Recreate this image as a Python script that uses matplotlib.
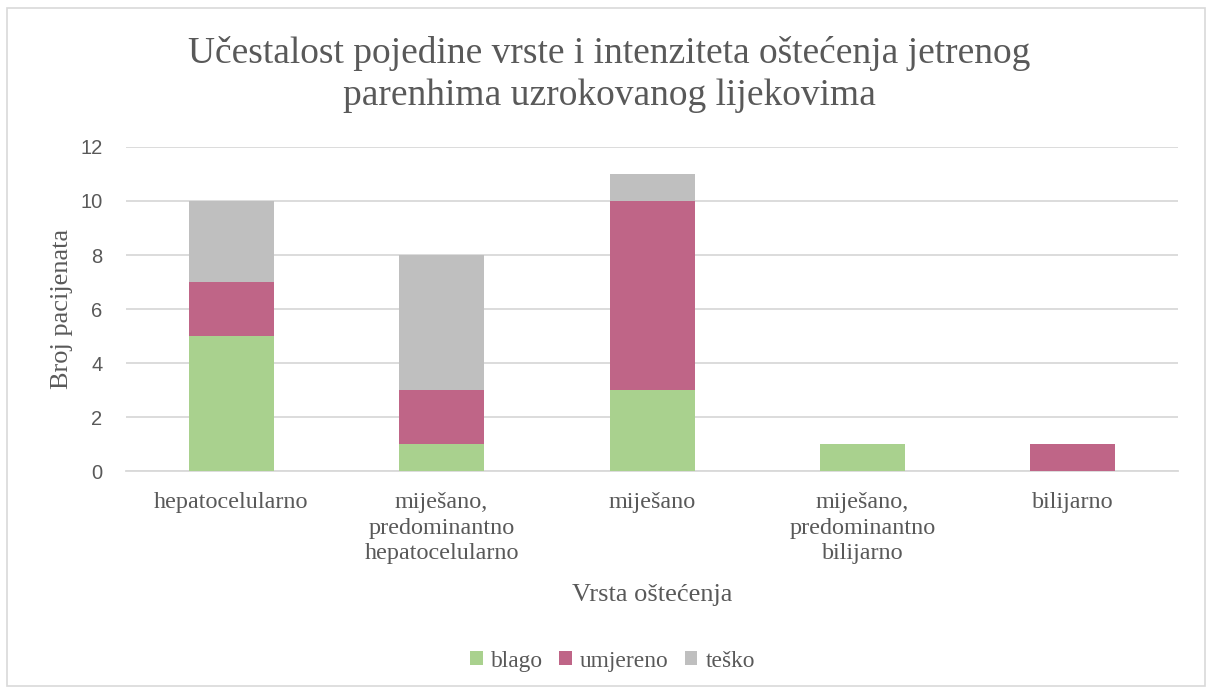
import matplotlib.pyplot as plt
import numpy as np

# podaci
categories = ["hepatocelularno",
              "miješano,\npredominantno\nhepatocelularno",
              "miješano",
              "miješano,\npredominantno\nbilijarno",
              "bilijarno"]
blago = [5, 1, 3, 1, 0]
umjereno = [2, 2, 7, 0, 1]
tesko = [3, 5, 1, 0, 0]

series_names = ["blago", "umjereno", "teško"]
colors = ["#a9d18e", "#bf6587", "#bfbfbf"]
text_color = "#595959"
serif = "Liberation Serif"

fig = plt.figure(figsize=(12.06, 6.93), dpi=100)
ax = fig.add_axes([0.1045, 0.3203, 0.8723, 0.4676])

x = np.arange(len(categories))
bottom = np.zeros(len(categories))
handles = []
for vals, name, col in zip([blago, umjereno, tesko], series_names, colors):
    b = ax.bar(x, vals, width=0.404, bottom=bottom, color=col, label=name, zorder=3)
    handles.append(b)
    bottom += np.array(vals)

ax.set_xlim(-0.5, len(categories) - 0.5)
ax.set_ylim(0, 12)
ax.set_yticks(range(0, 13, 2))
ax.grid(axis="y", color="#d9d9d9", linewidth=1.3, zorder=0)
for side in ["top", "right", "left"]:
    ax.spines[side].set_visible(False)
ax.spines["bottom"].set_color("#d9d9d9")
ax.spines["bottom"].set_linewidth(1.3)
ax.tick_params(axis="both", length=0, colors=text_color)
ax.tick_params(axis="y", labelsize=14.5, pad=17)
ax.set_yticklabels([str(v) for v in range(0, 13, 2)], family="Liberation Sans")
ax.set_xticks(x)
ax.set_xticklabels(categories, family=serif, fontsize=17.4, linespacing=1.3)
ax.tick_params(axis="x", pad=15)

ax.set_ylabel("Broj pacijenata", family=serif, fontsize=19, color=text_color, labelpad=5.5)
ax.set_xlabel("Vrsta oštećenja", family=serif, fontsize=19, color=text_color, labelpad=14)

fig.text(0.505, 0.8925, "Učestalost pojedine vrste i intenziteta oštećenja jetrenog\nparenhima uzrokovanog lijekovima",
         ha="center", va="center", family=serif, fontsize=27, color=text_color, linespacing=1.25)

leg = fig.legend(handles=handles, loc="center", bbox_to_anchor=(0.508, 0.046), ncol=3, frameon=False,
                 prop={"family": serif, "size": 16.9}, handlelength=0.52, handleheight=0.52,
                 handletextpad=0.35, columnspacing=0.7)
for t in leg.get_texts():
    t.set_color(text_color)

# okvir oko grafikona
fig.add_artist(plt.Rectangle((7 / 1206, 1 - 686 / 693), 1198 / 1206, 678 / 693, transform=fig.transFigure,
                             fill=False, edgecolor="#d9d9d9", linewidth=1.2))

fig.savefig("out.png", dpi=100, facecolor="white")
